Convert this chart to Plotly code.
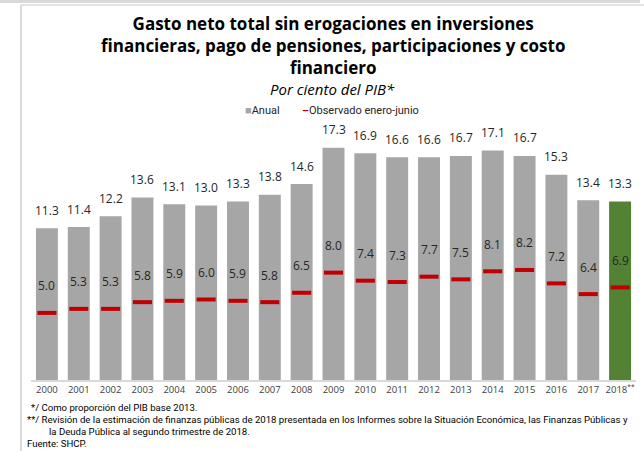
import plotly.graph_objects as go

years = ["2000", "2001", "2002", "2003", "2004", "2005", "2006", "2007", "2008", "2009",
         "2010", "2011", "2012", "2013", "2014", "2015", "2016", "2017", "2018**"]
tick_labels = ["2000", "2001", "2002", "2003", "2004", "2005", "2006", "2007", "2008", "2009",
               "2010", "2011", "2012", "2013", "2014", "2015", "2016", "2017", "2018<sup>**</sup>"]
anual = [11.3, 11.4, 12.2, 13.6, 13.1, 13.0, 13.3, 13.8, 14.6, 17.3,
         16.9, 16.6, 16.6, 16.7, 17.1, 16.7, 15.3, 13.4, 13.3]
observado = [5.0, 5.3, 5.3, 5.8, 5.9, 6.0, 5.9, 5.8, 6.5, 8.0,
             7.4, 7.3, 7.7, 7.5, 8.1, 8.2, 7.2, 6.4, 6.9]

title_lines = ["Gasto neto total sin erogaciones en inversiones",
               "financieras, pago de pensiones, participaciones y costo",
               "financiero"]
subtitle = "Por ciento del PIB*"
footnotes = ["*/ Como proporción del PIB base 2013.",
             "**/ Revisión de la estimación de finanzas públicas de 2018 presentada en los Informes sobre la Situación Económica, las Finanzas Públicas y",
             "la Deuda Pública al segundo trimestre de 2018.",
             "Fuente: SHCP."]

GRAY = "#a6a6a6"
GREEN = "#548235"
RED = "#c00000"
TXT = "#262626"
SMALL = "Roboto, sans-serif"

W, H = 644, 451
def px(x):
    return x / W
def py(y):
    return (H - y) / H

bar_colors = [GREEN if y.startswith("2018") else GRAY for y in years]

fig = go.Figure()
fig.add_trace(go.Bar(x=years, y=anual, marker=dict(color=bar_colors, line=dict(width=0)),
                     showlegend=False, hoverinfo="skip"))
fig.add_trace(go.Scatter(x=years, y=observado, mode="markers",
                         marker=dict(symbol="line-ew", size=13.6,
                                     line=dict(color=RED, width=4)),
                         showlegend=False, hoverinfo="skip"))

ann = []
for i, v in enumerate(anual):
    ann.append(dict(x=i, y=v, xref="x", yref="y", text=f"{v:.1f}", showarrow=False,
                    yshift=18, yanchor="middle",
                    font=dict(family="Open Sans, sans-serif", size=12, color=TXT)))
for i, v in enumerate(observado):
    ann.append(dict(x=i, y=v, xref="x", yref="y", text=f"{v:.1f}", showarrow=False,
                    yshift=27, yanchor="middle",
                    font=dict(family="Open Sans, sans-serif", size=12, color=TXT)))

# title
ann.append(dict(x=px(333), y=py(10), xref="paper", yref="paper", xanchor="center", yanchor="top",
                text="<br>".join(f"<b>{t}</b>" for t in title_lines), showarrow=False,
                font=dict(family="Open Sans, sans-serif", size=17, color="#000000")))
ann.append(dict(x=px(333), y=py(89), xref="paper", yref="paper", xanchor="center", yanchor="middle",
                text=f"<i>{subtitle}</i>", showarrow=False,
                font=dict(family="Open Sans, sans-serif", size=15, color="#000000")))
# legend
ann.append(dict(x=px(243), y=py(111), xref="paper", yref="paper", xanchor="left", yanchor="middle",
                text=f'<span style="color:{GRAY}">■</span>Anual', showarrow=False,
                font=dict(family=SMALL, size=11, color=TXT)))
ann.append(dict(x=px(300), y=py(111), xref="paper", yref="paper", xanchor="left", yanchor="middle",
                text=f'<span style="color:{RED}"><b>–</b></span>Observado enero-junio', showarrow=False,
                font=dict(family=SMALL, size=11, color=TXT)))
# footnotes
fn_pos = [(29, 407), (25, 419), (47, 431), (25, 443)]
for t, (x0, y0) in zip(footnotes, fn_pos):
    ann.append(dict(x=px(x0), y=py(y0), xref="paper", yref="paper", xanchor="left", yanchor="middle",
                    text=t, showarrow=False,
                    font=dict(family=SMALL, size=9.6, color="#000000")))

shapes = [
    dict(type="rect", xref="paper", yref="paper", x0=0, x1=px(640), y0=py(3), y1=1,
         fillcolor="#d9d9d9", line=dict(width=0), layer="below"),
    dict(type="line", xref="paper", yref="paper", x0=px(21), x1=1, y0=py(5), y1=py(5),
         line=dict(color="#e3e3e3", width=2)),
    dict(type="line", xref="paper", yref="paper", x0=px(21), x1=px(21), y0=py(5), y1=0,
         line=dict(color="#d9d9d9", width=2)),
]

plot_top, plot_bot = 100, 380
scale = 13.42
fig.update_layout(
    width=W, height=H, margin=dict(l=0, r=0, t=0, b=0),
    paper_bgcolor="white", plot_bgcolor="white",
    bargap=0.31, annotations=ann, shapes=shapes,
    xaxis=dict(domain=[px(31), px(636)], type="category", range=[-0.5, 18.5],
               tickvals=years, ticktext=tick_labels, showline=True, linecolor="#d9d9d9",
               linewidth=2, ticks="", showgrid=False, zeroline=False,
               tickfont=dict(family="Open Sans, sans-serif", size=9.5, color="#404040")),
    yaxis=dict(domain=[py(plot_bot), py(plot_top)], range=[0, (plot_bot - plot_top) / scale],
               visible=False, showgrid=False, zeroline=False),
    showlegend=False,
)
fig.write_html("out.html", config={"displayModeBar": False},
               post_script="document.body.style.margin='0';document.body.style.overflow='hidden';")
